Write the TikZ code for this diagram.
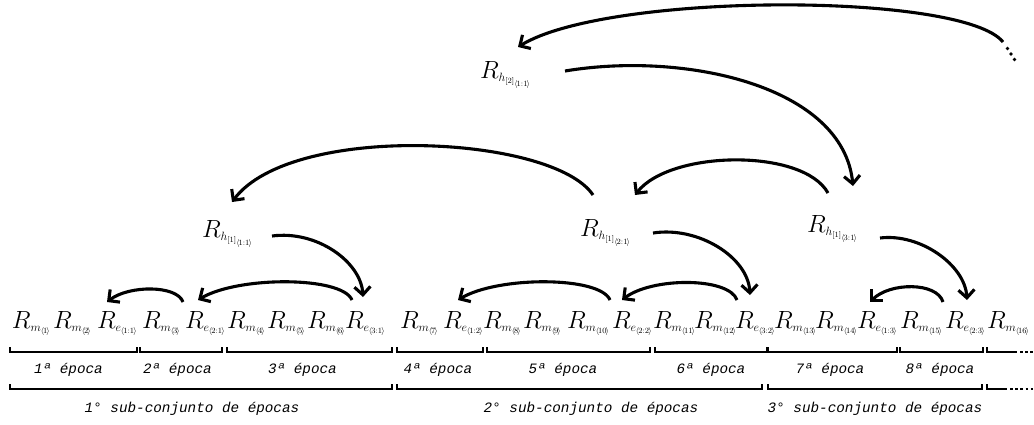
\documentclass[tikz,border=0pt]{standalone}
\usepackage{fontspec}
\newfontfamily\lblfont{Liberation Mono}
\usetikzlibrary{arrows.meta,calc}
\DeclareMathSizes{25}{25}{13}{8}
\newcommand{\agl}[1]{\langle\mkern-2mu #1\mkern-2mu\rangle}
\newcommand{\brak}[3]{\draw[brk] (#1,{#3-5}) -- (#1,#3) -- (#2,#3) -- (#2,{#3-5});}
\tikzset{
  rr/.style={anchor=base west, inner sep=0pt, outer sep=0pt, font=\fontsize{25}{30}\selectfont},
  arc/.style={line width=3.1pt, -{Straight Barb[length=8pt,width=16pt]}},
  brk/.style={line width=2.9pt},
  brkdot/.style={line width=2.9pt, dash pattern=on 2.6pt off 2.6pt},
  lbl/.style={anchor=base, inner sep=0pt, font=\lblfont\itshape\fontsize{14.3}{16}\selectfont},
}
\begin{document}
\begin{tikzpicture}[x=1pt,y=-1pt]
\useasboundingbox (0,0) rectangle (1034,424);
\fill[white] (0,0) rectangle (1034,424);
% bottom row
\node[rr] (m1)  at (12,328)  {$R_{m_{\agl{1}}}$};
\node[rr] (m2)  at (53,328)  {$R_{m_{\agl{2}}}$};
\node[rr] (e11) at (97,328)  {$R_{e_{\agl{1:1}}}$};
\node[rr] (m3)  at (142,328) {$R_{m_{\agl{3}}}$};
\node[rr] (e21) at (185,328) {$R_{e_{\agl{2:1}}}$};
\node[rr] (m4)  at (227,328) {$R_{m_{\agl{4}}}$};
\node[rr] (m5)  at (267,328) {$R_{m_{\agl{5}}}$};
\node[rr] (m6)  at (307,328) {$R_{m_{\agl{6}}}$};
\node[rr] (e31) at (345,328) {$R_{e_{\agl{3:1}}}$};
\node[rr] (m7)  at (400,328) {$R_{m_{\agl{7}}}$};
\node[rr] (e12) at (443,328) {$R_{e_{\agl{1:2}}}$};
\node[rr] (m8)  at (483,328) {$R_{m_{\agl{8}}}$};
\node[rr] (m9)  at (523,328) {$R_{m_{\agl{9}}}$};
\node[rr] (m10) at (567,328) {$R_{m_{\agl{10}}}$};
\node[rr] (e22) at (612,328) {$R_{e_{\agl{2:2}}}$};
\node[rr] (m11) at (653,328) {$R_{m_{\agl{11}}}$};
\node[rr] (m12) at (694,328) {$R_{m_{\agl{12}}}$};
\node[rr] (e32) at (735,328) {$R_{e_{\agl{3:2}}}$};
\node[rr] (m13) at (774,328) {$R_{m_{\agl{13}}}$};
\node[rr] (m14) at (815,328) {$R_{m_{\agl{14}}}$};
\node[rr] (e13) at (857,328) {$R_{e_{\agl{1:3}}}$};
\node[rr] (m15) at (900,328) {$R_{m_{\agl{15}}}$};
\node[rr] (e23) at (945,328) {$R_{e_{\agl{2:3}}}$};
\node[rr] (m16) at (987,328) {$R_{m_{\agl{16}}}$};
% upper levels
\node[rr] (h11) at (202,237) {$R_{h_{[1]_{\agl{1:1}}}}$};
\node[rr] (h12) at (580,236) {$R_{h_{[1]_{\agl{2:1}}}}$};
\node[rr] (h13) at (807,232) {$R_{h_{[1]_{\agl{3:1}}}}$};
\node[rr] (h2)  at (480,78)  {$R_{h_{[2]_{\agl{1:1}}}}$};
\coordinate (more) at (1011,54);
\foreach \d in {-1,0,1} \fill ($(more)+(3.5*\d,5.5*\d)$) circle (1.8);
% epoch-level arcs
\draw[arc] ($(e21.base west)+(-2,-26)$) .. controls +(-6,-17) and +(22,-17) .. ($(e11.base west)+(10,-26)$);
\draw[arc] ($(e31.base west)+(7,-28)$) .. controls +(-10,-24) and +(40,-24) .. ($(e21.base west)+(13,-28)$);
\draw[arc] ($(e22.base west)+(-2,-28)$) .. controls +(-10,-24) and +(40,-24) .. ($(e12.base west)+(15,-28)$);
\draw[arc] ($(e32.base west)+(2,-28)$) .. controls +(-8,-23) and +(30,-23) .. ($(e22.base west)+(10,-28)$);
\draw[arc] ($(e23.base west)+(-2,-26)$) .. controls +(-6,-20) and +(20,-20) .. ($(e13.base west)+(13,-26)$);
% h1 -> last epoch
\draw[arc] ($(h11.base west)+(70,-1)$) .. controls +(45,-6) and +(-2,-35) .. ($(e31.base west)+(18,-31)$);
\draw[arc] ($(h12.base west)+(73,-3)$) .. controls +(45,-7) and +(-2,-38) .. ($(e32.base west)+(15,-33)$);
\draw[arc] ($(h13.base west)+(73,6)$) .. controls +(40,-5) and +(-2,-35) .. ($(e23.base west)+(22,-28)$);
% h1 -> h1
\draw[arc] ($(h12.base west)+(13,-41)$) .. controls +(-40,-60) and +(60,-80) .. ($(h11.base west)+(30,-35)$);
\draw[arc] ($(h13.base west)+(21,-39)$) .. controls +(-25,-45) and +(35,-45) .. ($(h12.base west)+(55,-41)$);
% h2 -> h1, more -> h2
\draw[arc] ($(h2.base west)+(85,-7)$) .. controls +(120,-20) and +(-10,-100) .. ($(h13.base west)+(46,-46)$);
\draw[arc] ($(more)+(-8,-12)$) .. controls +(-40,-50) and +(90,-55) .. ($(h2.base west)+(38,-31)$);
% epoch brackets
\brak{10}{137}{352}
\brak{140}{222}{352}
\brak{227}{392}{352}
\brak{397}{483}{352}
\brak{487}{650}{352}
\brak{655}{767}{352}
\brak{768}{897}{352}
\brak{900}{983}{352}
\draw[brk] (987,347) -- (987,352) -- (1017,352);
\draw[brkdot] (1020,352) -- (1034,352);
% sub-set brackets
\brak{10}{392}{389}
\brak{397}{762}{389}
\brak{768}{982}{389}
\draw[brk] (987,384) -- (987,389) -- (1007,389);
\draw[brkdot] (1010,389) -- (1034,389);
% labels
\node[lbl] (l1) at (68.5,373) {1ª época};
\node[lbl] (l2) at (177.5,373) {2ª época};
\node[lbl] (l3) at (302.5,373) {3ª época};
\node[lbl] (l4) at (438,373) {4ª época};
\node[lbl] (l5) at (563,373) {5ª época};
\node[lbl] (l6) at (711,373) {6ª época};
\node[lbl] (l7) at (830,373) {7ª época};
\node[lbl] (l8) at (940,373) {8ª época};
\node[lbl] (s1) at (192,412) {1° sub-conjunto de épocas};
\node[lbl] (s2) at (591,412) {2° sub-conjunto de épocas};
\node[lbl] (s3) at (875,412) {3° sub-conjunto de épocas};
\end{tikzpicture}
\end{document}
